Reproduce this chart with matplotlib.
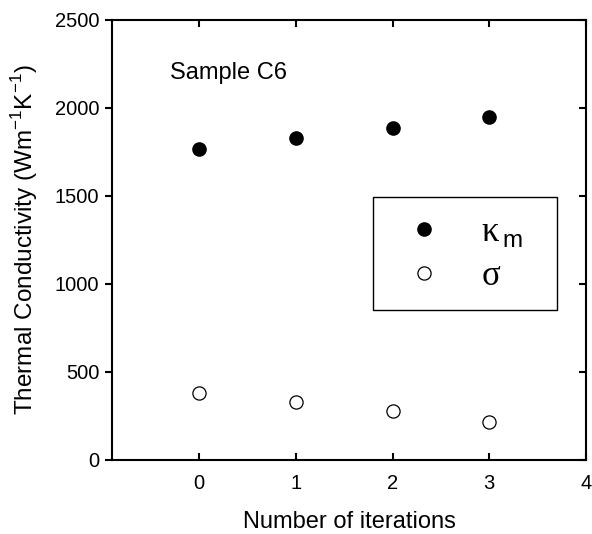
import matplotlib
matplotlib.use('Agg')
import matplotlib.pyplot as plt
from matplotlib.lines import Line2D, TICKLEFT
from matplotlib.patches import Rectangle

plt.rcParams['font.family'] = ['Liberation Sans', 'DejaVu Sans']
plt.rcParams['mathtext.fontset'] = 'custom'
plt.rcParams['mathtext.rm'] = 'Liberation Serif'
plt.rcParams['mathtext.sf'] = 'Liberation Sans'

# data
iterations = [0, 1, 2, 3]
kappa_m = [1767, 1829, 1886, 1949]
sigma = [380, 330, 278, 216]

fig = plt.figure(figsize=(5.92, 5.34), dpi=100)
ax = fig.add_axes([0.189, 0.1386, 0.801, 0.824])

ax.plot(iterations, kappa_m, 'o', color='black', markersize=9.5, linestyle='none')
ax.plot(iterations, sigma, 'o', markerfacecolor='white', markeredgecolor='black',
        markeredgewidth=0.9, markersize=9.5, linestyle='none')

ax.set_xlim(-0.9, 4)
ax.set_ylim(0, 2500)
ax.set_xticks([0, 1, 2, 3, 4])
ax.set_yticks([0, 500, 1000, 1500, 2000, 2500])

for s in ax.spines.values():
    s.set_linewidth(1.5)

ax.tick_params(axis='x', direction='in', top=True, length=5, width=1.5,
               labelsize=14.5, pad=10)
ax.tick_params(axis='y', direction='out', right=True, length=5, width=1.5,
               labelsize=14.5, pad=4)
# right-side ticks point inward
for t in ax.yaxis.get_major_ticks():
    t.tick2line.set_marker(TICKLEFT)

ax.set_xlabel('Number of iterations', fontsize=17, labelpad=13)
ax.set_ylabel(r'Thermal Conductivity (Wm$^{\mathsf{-1}}$K$^{\mathsf{-1}}$)',
              fontsize=17.5, labelpad=11)

ax.text(0.122, 0.88, 'Sample C6', transform=ax.transAxes, fontsize=17,
        ha='left', va='center')

# legend box
ax.add_patch(Rectangle((0.551, 0.341), 0.388, 0.257, transform=ax.transAxes,
                       fill=False, edgecolor='black', linewidth=1.0))
handles = [
    Line2D([], [], marker='o', color='black', linestyle='none', markersize=9.5),
    Line2D([], [], marker='o', markerfacecolor='white', markeredgecolor='black',
           markeredgewidth=0.9, linestyle='none', markersize=9.5),
]
ax.legend(handles, [r'$\mathrm{\kappa}_{\,\mathsf{m}}$', r'$\mathrm{\sigma}$'],
          loc='center', bbox_to_anchor=(0.745, 0.469), frameon=False,
          fontsize=25, labelspacing=0.27, handletextpad=1.15, handlelength=1.0)

fig.savefig('out.png', dpi=100)
